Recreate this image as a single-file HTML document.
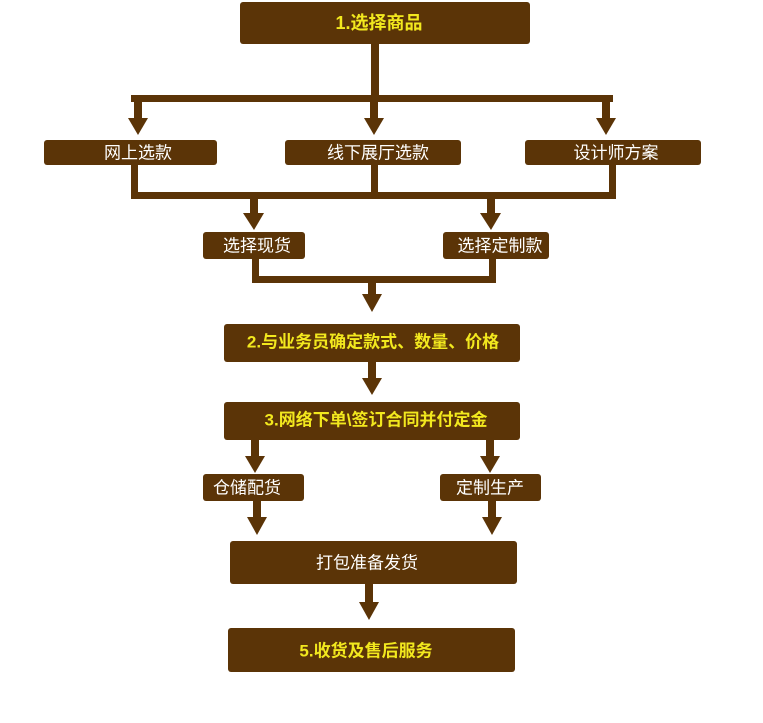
<!DOCTYPE html>
<html><head><meta charset="utf-8"><style>
body{margin:0;background:#fff;}
svg text{font-family:"Liberation Sans","Noto Sans CJK SC",sans-serif;text-anchor:middle;dominant-baseline:central;}
.y{fill:#f2e81e;font-weight:bold;font-size:17px;}
.w{fill:#fff;font-size:17px;}
</style></head><body>
<svg width="763" height="718" viewBox="0 0 763 718" xmlns="http://www.w3.org/2000/svg">
<g fill="#5b3407">
<rect x="240" y="2" width="290" height="42" rx="3"/>
<rect x="44" y="140" width="173" height="25" rx="3"/>
<rect x="285" y="140" width="176" height="25" rx="3"/>
<rect x="525" y="140" width="176" height="25" rx="3"/>
<rect x="203" y="232" width="102" height="27" rx="3"/>
<rect x="443" y="232" width="106" height="27" rx="3"/>
<rect x="224" y="324" width="296" height="38" rx="3"/>
<rect x="224" y="402" width="296" height="38" rx="3"/>
<rect x="203" y="474" width="101" height="27" rx="3"/>
<rect x="440" y="474" width="101" height="27" rx="3"/>
<rect x="230" y="541" width="287" height="43" rx="3"/>
<rect x="228" y="628" width="287" height="44" rx="3"/>
<rect x="371" y="44" width="8" height="58"/>
<rect x="131" y="95" width="482" height="7"/>
<rect x="134" y="95" width="8" height="25"/>
<rect x="370" y="95" width="8" height="25"/>
<rect x="602" y="95" width="8" height="25"/>
<polygon points="128,118 148,118 138,135"/>
<polygon points="364,118 384,118 374,135"/>
<polygon points="596,118 616,118 606,135"/>
<rect x="131" y="165" width="7" height="34"/>
<rect x="371" y="165" width="7" height="34"/>
<rect x="609" y="165" width="7" height="34"/>
<rect x="131" y="192" width="485" height="7"/>
<rect x="250" y="192" width="8" height="22"/>
<rect x="487" y="192" width="8" height="22"/>
<polygon points="243,213 264,213 254,230"/>
<polygon points="480,213 501,213 491,230"/>
<rect x="252" y="259" width="7" height="24"/>
<rect x="489" y="259" width="7" height="24"/>
<rect x="252" y="276" width="244" height="7"/>
<rect x="368" y="276" width="8" height="20"/>
<polygon points="362,294 382,294 372,312"/>
<rect x="368" y="362" width="8" height="18"/>
<polygon points="362,378 382,378 372,395"/>
<rect x="251" y="440" width="8" height="18"/>
<rect x="486" y="440" width="8" height="18"/>
<polygon points="245,456 265,456 255,473"/>
<polygon points="480,456 500,456 490,473"/>
<rect x="253" y="501" width="8" height="18"/>
<rect x="488" y="501" width="8" height="18"/>
<polygon points="247,517 267,517 257,535"/>
<polygon points="482,517 502,517 492,535"/>
<rect x="365" y="584" width="8" height="20"/>
<polygon points="359,602 379,602 369,620"/>
</g>
<text class="y" x="379" y="23" style="font-size:18px">1.选择商品</text>
<text class="w" x="138" y="153">网上选款</text>
<text class="w" x="378" y="153">线下展厅选款</text>
<text class="w" x="616" y="153">设计师方案</text>
<text class="w" x="257" y="246">选择现货</text>
<text class="w" x="500" y="246">选择定制款</text>
<text class="y" x="373" y="342">2.与业务员确定款式、数量、价格</text>
<text class="y" x="376" y="420">3.网络下单\签订合同并付定金</text>
<text class="w" x="247" y="488">仓储配货</text>
<text class="w" x="490" y="488">定制生产</text>
<text class="w" x="367" y="563">打包准备发货</text>
<text class="y" x="366" y="651">5.收货及售后服务</text>
</svg>
</body></html>
